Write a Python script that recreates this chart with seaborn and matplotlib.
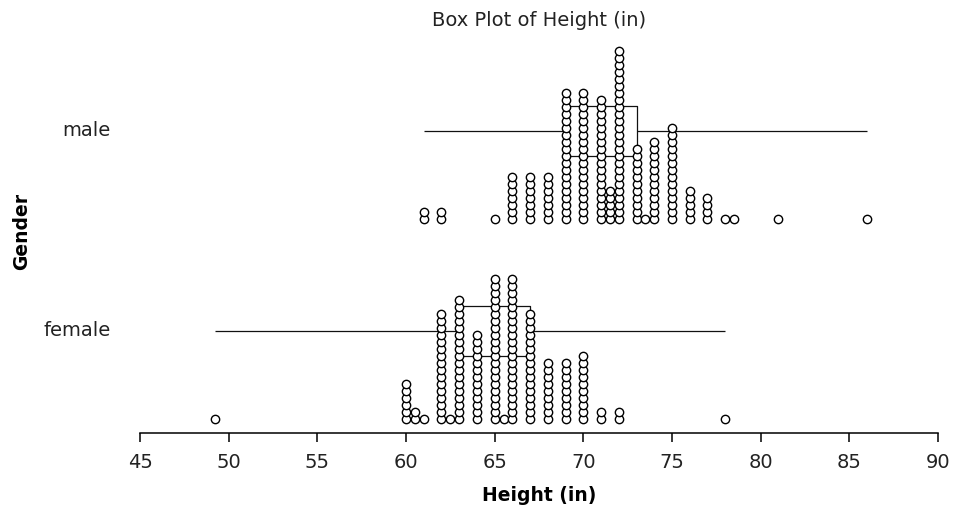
import pandas as pd
import numpy as np
import seaborn as sns
import matplotlib.pyplot as plt

male_heights = [61, 62, 65, 66, 67, 68, 69, 70, 71, 71.5, 72, 73, 73.5,
                74, 75, 76, 77, 78, 78.5, 81, 86]
male_counts = [2, 2, 1, 7, 7, 7, 19, 19, 18, 5, 25, 11, 1,
               12, 14, 5, 4, 1, 1, 1, 1]

female_heights = [49.25, 60, 60.5, 61, 62, 62.5, 63, 64, 65, 65.5, 66, 67,
                  68, 69, 70, 71, 72, 78]
female_counts = [1, 6, 2, 1, 16, 1, 18, 13, 21, 1, 21, 16,
                 9, 9, 10, 2, 2, 1]

genders = ['male', 'female']
x_ticks = [45, 50, 55, 60, 65, 70, 75, 80, 85, 90]

# one row per observation
rows = []
for g, hs, cs in [('male', male_heights, male_counts),
                  ('female', female_heights, female_counts)]:
    for h, c in zip(hs, cs):
        for k in range(c):
            rows.append({'gender': g, 'height': h, 'stack': k})
df = pd.DataFrame(rows)

# dots sit below the box and pile upwards
base_off = 0.44
step = 0.035
df['ypos'] = df['gender'].map({g: i for i, g in enumerate(genders)}) + base_off - df['stack'] * step

sns.set_theme(style='white')
plt.rcParams['font.family'] = ['DejaVu Sans']

fig = plt.figure(figsize=(9.55, 5.12), dpi=100)
ax = fig.add_axes([140 / 955, 1 - 433 / 512, 798 / 955, 404 / 512])

sns.boxplot(data=df, x='height', y='gender', order=genders, whis=(0, 100),
            width=0.25, fill=False, color='#111111', linecolor='#111111',
            linewidth=0.9, showcaps=False, showfliers=False, ax=ax)

sns.scatterplot(data=df, x='height', y='ypos', marker='o', s=36,
                color='white', edgecolor='black', linewidth=1.0,
                zorder=3, legend=False, ax=ax)

ax.set_xlim(45, 90)
ax.set_ylim(1.51, -0.51)
ax.set_xticks(x_ticks)
ax.set_yticks([0, 1])
ax.set_yticklabels(genders)

for s in ['top', 'right', 'left']:
    ax.spines[s].set_visible(False)
ax.spines['bottom'].set_color('black')
ax.spines['bottom'].set_linewidth(1.1)

ax.tick_params(axis='x', direction='out', length=6.5, width=1.1, color='black',
               bottom=True, labelsize=14, pad=8, labelcolor='#222222')
ax.tick_params(axis='y', length=0, pad=21, labelsize=14, labelcolor='#222222')
for lbl in ax.get_yticklabels():
    lbl.set_verticalalignment('center')
    lbl.set_y(lbl.get_position()[1])

ax.set_title('Box Plot of Height (in)', fontsize=14, pad=2, color='#222222')
ax.set_xlabel('Height (in)', fontsize=13.5, fontweight='bold', color='black')
ax.set_ylabel('Gender', fontsize=13.5, fontweight='bold', color='black')
ax.xaxis.set_label_coords(0.5, -0.131)
ax.yaxis.set_label_coords(-0.137, 0.5)

fig.savefig('out.png', dpi=100)
